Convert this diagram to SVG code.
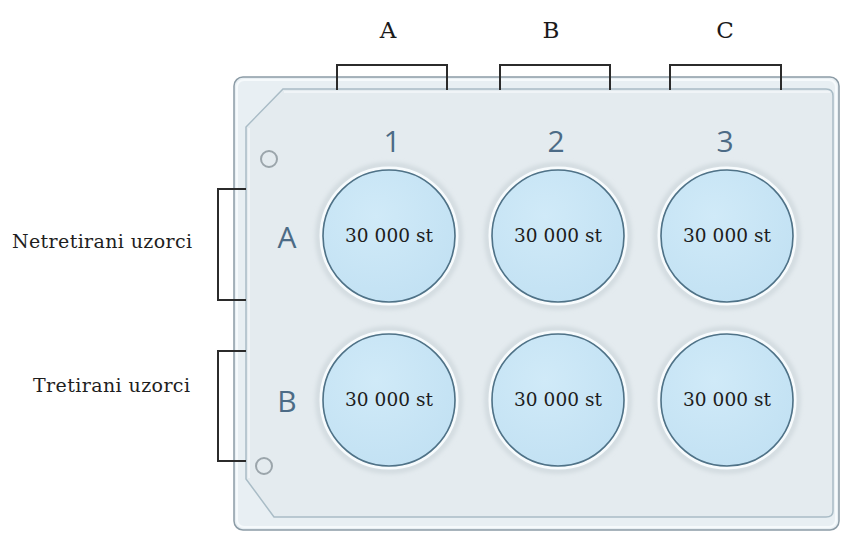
<svg xmlns="http://www.w3.org/2000/svg" width="842" height="533" viewBox="0 0 842 533">
  <style>
    .bracket { fill: none; stroke: #2b2b2b; stroke-width: 2; }
    .lbl { font-family: "DejaVu Serif", "Liberation Serif", serif; font-size: 19px; fill: #1e1e1e; }
    .head { font-family: "DejaVu Serif", "Liberation Serif", serif; font-size: 23px; fill: #1a1a1a; text-anchor: middle; }
    .idx { font-family: "Open Sans", "Noto Sans", sans-serif; font-size: 30px; fill: #4c6b86; text-anchor: middle; }
    .count { font-family: "DejaVu Serif", "Liberation Serif", serif; font-size: 18.5px; fill: #1d1d1d; text-anchor: middle; }
    .halo { fill: none; stroke: #d0d9de; stroke-width: 5; }
    .ring { fill: none; stroke: #f7fbfd; stroke-width: 3; }
    .well { fill: url(#wellFill); stroke: #4f7287; stroke-width: 1.6; }
    .pin { fill: none; stroke: #9ba5ab; stroke-width: 2; }
  </style>
  <defs>
    <radialGradient id="wellFill" cx="0.4" cy="0.35" r="0.7">
      <stop offset="0" stop-color="#d0eaf8"/>
      <stop offset="1" stop-color="#c2e1f3"/>
    </radialGradient>
    <filter id="soft" x="-20%" y="-20%" width="140%" height="140%">
      <feGaussianBlur stdDeviation="2"/>
    </filter>
  </defs>

  <rect width="842" height="533" fill="#ffffff"/>

  <!-- plate body -->
  <g id="plate">
    <rect x="234" y="77" width="605" height="453" rx="9" fill="#e8eff3" stroke="#8c9ca6" stroke-width="1.5"/>
    <rect x="237" y="80" width="599" height="447" rx="7" fill="none" stroke="#f6fafc" stroke-width="2"/>
    <path d="M283,89 L826,89 Q833,89 833,96 L833,511 Q833,517 826,517 L274,517 L246,479 L246,127 Z"
          fill="#e4ebef" stroke="#a9bcc6" stroke-width="1.5"/>
    <path d="M284,92 L830,92 M249,128 L249,478" fill="none" stroke="#f4f8fa" stroke-width="1.5"/>
    <circle class="pin" cx="269" cy="159" r="8"/>
    <circle class="pin" cx="264" cy="466" r="8"/>
  </g>

  <!-- column and row indices -->
  <g id="indices">
    <text class="idx" x="392" y="152">1</text>
    <text class="idx" x="556" y="152">2</text>
    <text class="idx" x="725" y="152">3</text>
    <text class="idx" x="287" y="248">A</text>
    <text class="idx" x="287" y="412">B</text>
  </g>

  <!-- wells -->
  <g id="well-A1">
    <circle class="halo" cx="389" cy="236" r="71" filter="url(#soft)"/>
    <circle class="ring" cx="389" cy="236" r="68"/>
    <circle class="well" cx="389" cy="236" r="66"/>
    <text class="count" x="389" y="242" textLength="88">30 000 st</text>
  </g>
  <g id="well-A2">
    <circle class="halo" cx="558" cy="236" r="71" filter="url(#soft)"/>
    <circle class="ring" cx="558" cy="236" r="68"/>
    <circle class="well" cx="558" cy="236" r="66"/>
    <text class="count" x="558" y="242" textLength="88">30 000 st</text>
  </g>
  <g id="well-A3">
    <circle class="halo" cx="727" cy="236" r="71" filter="url(#soft)"/>
    <circle class="ring" cx="727" cy="236" r="68"/>
    <circle class="well" cx="727" cy="236" r="66"/>
    <text class="count" x="727" y="242" textLength="88">30 000 st</text>
  </g>
  <g id="well-B1">
    <circle class="halo" cx="389" cy="400" r="71" filter="url(#soft)"/>
    <circle class="ring" cx="389" cy="400" r="68"/>
    <circle class="well" cx="389" cy="400" r="66"/>
    <text class="count" x="389" y="406" textLength="88">30 000 st</text>
  </g>
  <g id="well-B2">
    <circle class="halo" cx="558" cy="400" r="71" filter="url(#soft)"/>
    <circle class="ring" cx="558" cy="400" r="68"/>
    <circle class="well" cx="558" cy="400" r="66"/>
    <text class="count" x="558" y="406" textLength="88">30 000 st</text>
  </g>
  <g id="well-B3">
    <circle class="halo" cx="727" cy="400" r="71" filter="url(#soft)"/>
    <circle class="ring" cx="727" cy="400" r="68"/>
    <circle class="well" cx="727" cy="400" r="66"/>
    <text class="count" x="727" y="406" textLength="88">30 000 st</text>
  </g>

  <!-- group brackets -->
  <g id="brackets">
    <path class="bracket" d="M337,90 V65 H447 V90"/>
    <path class="bracket" d="M500,90 V65 H610 V90"/>
    <path class="bracket" d="M670,90 V65 H781 V90"/>
    <path class="bracket" d="M246,189 H218 V300 H246"/>
    <path class="bracket" d="M246,351 H218 V461 H246"/>
  </g>

  <!-- bracket labels -->
  <g id="labels">
    <text class="head" x="388" y="38">A</text>
    <text class="head" x="551" y="38">B</text>
    <text class="head" x="725" y="38">C</text>
    <text class="lbl" x="12" y="248" textLength="180">Netretirani uzorci</text>
    <text class="lbl" x="33" y="392" textLength="157">Tretirani uzorci</text>
  </g>
</svg>
